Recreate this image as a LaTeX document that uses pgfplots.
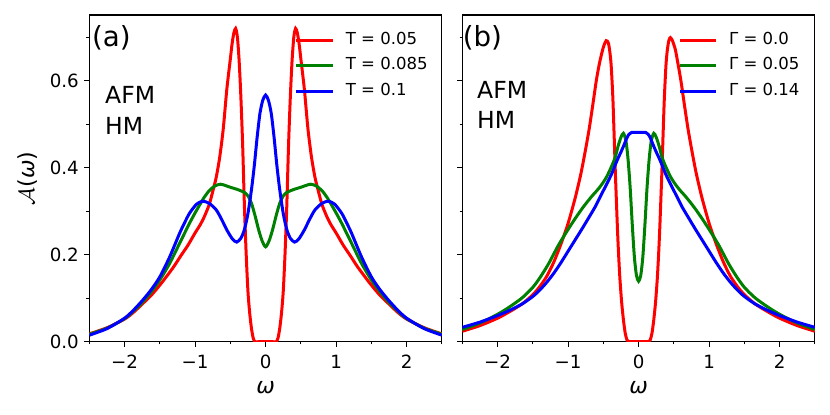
\documentclass[border=0pt]{standalone}
\usepackage{fix-cm}
\usepackage{fontspec}
\setmainfont{DejaVu Sans}
\usepackage{pgfplots}
\pgfplotsset{compat=1.18}
\definecolor{mplred}{rgb}{1,0,0}
\definecolor{mplgreen}{rgb}{0,0.5,0}
\definecolor{mplblue}{rgb}{0,0,1}
\pgfplotsset{
  panel/.style={
    scale only axis, width=352.6bp, height=326.7bp,
    xmin=-2.5, xmax=2.5, ymin=0, ymax=0.751,
    xtick={-2,-1,0,1,2}, xticklabels={−2,−1,0,1,2},
    minor xtick={-2.5,-1.5,-0.5,0.5,1.5,2.5},
    ytick={0,0.2,0.4,0.6}, minor ytick={0.1,0.3,0.5,0.7},
    tick align=outside, xtick pos=bottom, ytick pos=left,
    major tick length=4.9bp, minor tick length=2.8bp,
    every tick/.style={black, line width=1.1bp},
    axis line style={line width=1.1bp},
    tick label style={font=\fontsize{18.3}{22}\selectfont},
    xticklabel style={anchor=base, inner sep=0pt, yshift=-21.7bp},
    yticklabel style={anchor=east, inner sep=0pt, xshift=-5.4bp},
    label style={font=\fontsize{22.2}{26}\selectfont},
    xlabel={\textit{ω}},
    xlabel style={at={(axis description cs:0.5,-0.158)}, anchor=base},
    legend cell align=left,
    legend image code/.code={\draw[##1, line width=3bp, line cap=rect] (0bp,0bp) -- (33.3bp,0bp);},
    every axis plot/.append style={line width=3bp, smooth, tension=0.45, no markers},
  },
  legstyle/.style={legend style={draw=none, fill=none, at={(axis description cs:#1,0.947)}, anchor=north west,
      inner sep=0pt, outer sep=0pt, row sep=10bp, font=\fontsize{16.6}{20}\selectfont,
      nodes={inner sep=0pt, text height=12bp, text depth=3.5bp},
      /tikz/every odd column/.append style={column sep=13.3bp}}},
}
\begin{document}
\begin{tikzpicture}
\useasboundingbox (0bp,0bp) rectangle (830bp,415bp);
% ---------------- panel (a)
\begin{axis}[panel, legstyle=0.587, at={(89.3bp,73.3bp)}, anchor=south west,
    ylabel={$\mathcal{A}$(\textit{ω})},
    ylabel style={at={(axis description cs:-0.1565,0.5)}, anchor=base},
    yticklabels={0.0,0.2,0.4,0.6}]
\addplot[mplred, line width=3bp] coordinates {
(-2.5,0.018)(-2.25,0.032)(-2.0,0.052)(-1.87,0.068)(-1.74,0.088)(-1.62,0.107)(-1.5,0.13)(-1.4,0.151)(-1.3,0.173)(-1.2,0.198)(-1.1,0.222)(-1.0,0.25)(-0.93,0.268)(-0.87,0.287)(-0.8,0.315)(-0.75,0.345)(-0.7,0.378)(-0.65,0.425)(-0.6,0.49)(-0.55,0.58)(-0.5,0.65)(-0.475,0.685)(-0.45,0.71)(-0.425,0.72)(-0.4,0.70)(-0.375,0.645)(-0.35,0.56)(-0.325,0.45)(-0.3,0.31)(-0.275,0.2)(-0.25,0.115)(-0.225,0.065)(-0.2,0.03)(-0.175,0.008)(-0.15,0)(-0.1,0)(0,0)
(0.1,0)(0.15,0)(0.175,0.008)(0.2,0.03)(0.225,0.065)(0.25,0.115)(0.275,0.2)(0.3,0.31)(0.325,0.45)(0.35,0.56)(0.375,0.645)(0.4,0.70)(0.425,0.72)(0.45,0.71)(0.475,0.685)(0.5,0.65)(0.55,0.58)(0.6,0.49)(0.65,0.425)(0.7,0.378)(0.75,0.345)(0.8,0.315)(0.87,0.287)(0.93,0.268)(1.0,0.25)(1.1,0.222)(1.2,0.198)(1.3,0.173)(1.4,0.151)(1.5,0.13)(1.62,0.107)(1.74,0.088)(1.87,0.068)(2.0,0.052)(2.25,0.032)(2.5,0.018)};
\addlegendentry{T = 0.05}
\addplot[mplgreen, line width=3bp] coordinates {
(-2.5,0.017)(-2.25,0.031)(-2.0,0.053)(-1.87,0.071)(-1.74,0.092)(-1.62,0.115)(-1.5,0.142)(-1.36,0.18)(-1.22,0.226)(-1.15,0.249)(-1.08,0.272)(-1.0,0.296)(-0.94,0.313)(-0.87,0.332)(-0.8,0.347)(-0.72,0.358)(-0.64,0.362)(-0.57,0.359)(-0.5,0.355)(-0.4,0.35)(-0.3,0.343)(-0.25,0.335)(-0.2,0.318)(-0.15,0.29)(-0.1,0.258)(-0.05,0.232)(0,0.218)
(0.05,0.232)(0.1,0.258)(0.15,0.29)(0.2,0.318)(0.25,0.335)(0.3,0.343)(0.4,0.35)(0.5,0.355)(0.57,0.359)(0.64,0.362)(0.72,0.358)(0.8,0.347)(0.87,0.332)(0.94,0.313)(1.0,0.296)(1.08,0.272)(1.15,0.249)(1.22,0.226)(1.36,0.18)(1.5,0.142)(1.62,0.115)(1.74,0.092)(1.87,0.071)(2.0,0.053)(2.25,0.031)(2.5,0.017)};
\addlegendentry{T = 0.085}
\addplot[mplblue, line width=3bp] coordinates {
(-2.5,0.015)(-2.25,0.03)(-2.0,0.054)(-1.87,0.073)(-1.74,0.096)(-1.62,0.12)(-1.5,0.149)(-1.36,0.195)(-1.22,0.249)(-1.15,0.273)(-1.08,0.295)(-0.98,0.316)(-0.89,0.323)(-0.8,0.318)(-0.7,0.303)(-0.62,0.28)(-0.55,0.257)(-0.47,0.236)(-0.41,0.229)(-0.35,0.238)(-0.3,0.258)(-0.25,0.295)(-0.2,0.35)(-0.16,0.405)(-0.12,0.47)(-0.08,0.525)(-0.04,0.555)(0,0.567)
(0.04,0.555)(0.08,0.525)(0.12,0.47)(0.16,0.405)(0.2,0.35)(0.25,0.295)(0.3,0.258)(0.35,0.238)(0.41,0.229)(0.47,0.236)(0.55,0.257)(0.62,0.28)(0.7,0.303)(0.8,0.318)(0.89,0.323)(0.98,0.316)(1.08,0.295)(1.15,0.273)(1.22,0.249)(1.36,0.195)(1.5,0.149)(1.62,0.12)(1.74,0.096)(1.87,0.073)(2.0,0.054)(2.25,0.03)(2.5,0.015)};
\addlegendentry{T = 0.1}
\node[anchor=base west, inner sep=0pt, font=\fontsize{27.8}{33}\selectfont] at (axis description cs:0.0074,0.904) {(a)};
\node[anchor=base west, inner sep=0pt, font=\fontsize{23.6}{28}\selectfont] at (axis description cs:0.0445,0.7276) {AFM};
\node[anchor=base west, inner sep=0pt, font=\fontsize{23.6}{28}\selectfont] at (axis description cs:0.0445,0.6327) {HM};
\end{axis}
% ---------------- panel (b)
\begin{axis}[panel, legstyle=0.616, at={(462.3bp,73.3bp)}, anchor=south west,
    yticklabels={}]
\addplot[mplred, line width=3bp] coordinates {
(-2.5,0.024)(-2.25,0.037)(-2.0,0.054)(-1.83,0.069)(-1.65,0.087)(-1.5,0.108)(-1.4,0.127)(-1.3,0.151)(-1.2,0.184)(-1.1,0.225)(-1.0,0.272)(-0.9,0.33)(-0.82,0.385)(-0.76,0.435)(-0.7,0.49)(-0.64,0.555)(-0.6,0.6)(-0.555,0.64)(-0.5,0.677)(-0.46,0.692)(-0.43,0.687)(-0.41,0.669)(-0.389,0.635)(-0.365,0.56)(-0.346,0.47)(-0.33,0.39)(-0.317,0.333)(-0.3,0.26)(-0.285,0.205)(-0.265,0.145)(-0.24,0.09)(-0.215,0.05)(-0.19,0.02)(-0.165,0.004)(-0.14,0)(-0.1,0)(0,0)
(0.1,0)(0.14,0)(0.165,0.004)(0.19,0.02)(0.215,0.05)(0.24,0.09)(0.265,0.145)(0.285,0.205)(0.3,0.26)(0.317,0.333)(0.33,0.39)(0.346,0.47)(0.365,0.56)(0.389,0.638)(0.41,0.674)(0.43,0.693)(0.45,0.699)(0.48,0.692)(0.52,0.672)(0.555,0.642)(0.6,0.6)(0.64,0.555)(0.7,0.49)(0.76,0.435)(0.82,0.385)(0.9,0.33)(1.0,0.272)(1.1,0.225)(1.2,0.184)(1.3,0.151)(1.4,0.127)(1.5,0.108)(1.65,0.087)(1.83,0.069)(2.0,0.054)(2.25,0.037)(2.5,0.024)};
\addlegendentry{Γ = 0.0}
\addplot[mplgreen, line width=3bp] coordinates {
(-2.5,0.028)(-2.25,0.043)(-2.0,0.063)(-1.83,0.08)(-1.65,0.101)(-1.5,0.125)(-1.4,0.147)(-1.31,0.17)(-1.257,0.185)(-1.15,0.218)(-1.077,0.238)(-1.0,0.258)(-0.9,0.283)(-0.783,0.31)(-0.66,0.335)(-0.593,0.347)(-0.52,0.362)(-0.45,0.38)(-0.37,0.408)(-0.33,0.425)(-0.29,0.45)(-0.25,0.47)(-0.215,0.479)(-0.18,0.462)(-0.15,0.42)(-0.12,0.355)(-0.09,0.27)(-0.06,0.195)(-0.03,0.152)(0,0.139)
(0.03,0.152)(0.06,0.195)(0.09,0.27)(0.12,0.355)(0.15,0.42)(0.18,0.462)(0.215,0.479)(0.25,0.47)(0.29,0.45)(0.33,0.425)(0.37,0.408)(0.45,0.38)(0.52,0.362)(0.593,0.347)(0.66,0.335)(0.783,0.31)(0.9,0.283)(1.0,0.258)(1.077,0.238)(1.15,0.218)(1.257,0.185)(1.31,0.17)(1.4,0.147)(1.5,0.125)(1.65,0.101)(1.83,0.08)(2.0,0.063)(2.25,0.043)(2.5,0.028)};
\addlegendentry{Γ = 0.05}
\addplot[mplblue, line width=3bp] coordinates {
(-2.5,0.033)(-2.25,0.045)(-2.0,0.06)(-1.83,0.072)(-1.65,0.087)(-1.5,0.104)(-1.4,0.119)(-1.3,0.137)(-1.2,0.158)(-1.1,0.182)(-1.0,0.208)(-0.9,0.234)(-0.8,0.26)(-0.7,0.287)(-0.616,0.31)(-0.545,0.333)(-0.45,0.363)(-0.379,0.387)(-0.33,0.407)(-0.285,0.424)(-0.25,0.436)(-0.2,0.455)(-0.165,0.469)(-0.135,0.477)(-0.1,0.481)(-0.05,0.481)(0,0.481)
(0.05,0.481)(0.1,0.481)(0.135,0.477)(0.165,0.469)(0.2,0.455)(0.25,0.436)(0.285,0.424)(0.33,0.407)(0.379,0.387)(0.45,0.363)(0.545,0.333)(0.616,0.31)(0.7,0.287)(0.8,0.26)(0.9,0.234)(1.0,0.208)(1.1,0.182)(1.2,0.158)(1.3,0.137)(1.4,0.119)(1.5,0.104)(1.65,0.087)(1.83,0.072)(2.0,0.06)(2.25,0.045)(2.5,0.033)};
\addlegendentry{Γ = 0.14}
\node[anchor=base west, inner sep=0pt, font=\fontsize{27.8}{33}\selectfont] at (axis description cs:0.001,0.904) {(b)};
\node[anchor=base west, inner sep=0pt, font=\fontsize{23.6}{28}\selectfont] at (axis description cs:0.0417,0.745) {AFM};
\node[anchor=base west, inner sep=0pt, font=\fontsize{23.6}{28}\selectfont] at (axis description cs:0.0417,0.653) {HM};
\end{axis}
\end{tikzpicture}
\end{document}
